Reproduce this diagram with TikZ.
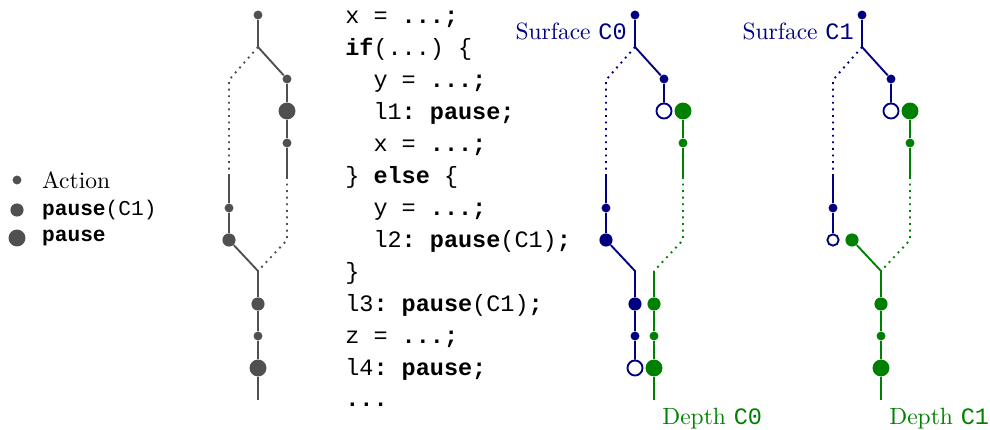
\documentclass[tikz,border=0pt]{standalone}
\usepackage{fontspec}
\setmonofont{Liberation Mono}
\usetikzlibrary{positioning}
\definecolor{surf}{HTML}{000080}
\definecolor{deep}{HTML}{008000}
\definecolor{plain}{HTML}{505050}

\begin{document}
\begin{tikzpicture}[x=0.4255pt, y=-0.4255pt,
  dot/.style={circle, inner sep=0pt, fill},
  act/.style={dot, minimum size=3.8pt},
  pzc/.style={dot, minimum size=5.6pt},
  pz/.style={dot, minimum size=7.2pt},
  hollow/.style={draw, fill=white, line width=0.8pt},
  hpz/.style={pz, hollow, minimum size=6.4pt},
  hpzc/.style={pzc, hollow, minimum size=4.8pt},
  link/.style={line width=0.8pt},
  ghost/.style={link, dotted},
]
\useasboundingbox (0,0) rectangle (990,430);

% ---- Legend ----
\node[plain, act] (kact) at (17,180) {};
\node[plain, pzc] (kpzc) at (17,210) {};
\node[plain, pz] (kpz) at (17,238) {};
\node[right=7.2pt of kact.center] (tact) {Action};
\node[right=7.2pt of kpzc.center] (tpzc) {\small\texttt{\textbf{pause}(C1)}};
\node[right=7.2pt of kpz.center] (tpz) {\small\texttt{\textbf{pause}}};

% ---- Control flow of the code ----
\node[plain, act] (g0) at (258,15) {};
\coordinate (gs) at (258,47);
\node[plain, act] (g1) at (287,79) {};
\node[plain, pz] (g2) at (287,111) {};
\node[plain, act] (g3) at (287,143) {};
\coordinate (gre) at (287,177);
\coordinate (grb) at (287,240);
\coordinate (gla) at (229,80);
\coordinate (gls) at (229,175);
\node[plain, act] (g4) at (229,208) {};
\node[plain, pzc] (g5) at (229,240) {};
\coordinate (gm) at (258,271);
\node[plain, pzc] (g6) at (258,304) {};
\node[plain, act] (g7) at (258,336) {};
\node[plain, pz] (g8) at (258,368) {};
\coordinate (gend) at (258,400);

\draw[link, plain] (g0) -- (gs) -- (g1) -- (g2) -- (g3) -- (gre);
\draw[ghost, plain] (gre) -- (grb) -- (gm);
\draw[ghost, plain] (gs) -- (gla) -- (gls);
\draw[link, plain] (gls) -- (g4) -- (g5) -- (gm) -- (g6) -- (g7) -- (g8) -- (gend);

% ---- Code ----
\node[anchor=base west, align=left,
      font=\ttfamily\fontsize{10pt}{13.6pt}\selectfont] (code) at (337,407)
  {x = \textbf{...;}\\
   \textbf{if}(...) \{\\
   \hphantom{xx}y = \textbf{...;}\\
   \hphantom{xx}l1\textbf{: pause;}\\
   \hphantom{xx}x = \textbf{...;}\\
   \} \textbf{else} \{\\
   \hphantom{xx}y = \textbf{...;}\\
   \hphantom{xx}l2\textbf{: pause}(C1)\textbf{;}\\
   \}\\
   l3\textbf{: pause}(C1)\textbf{;}\\
   z = \textbf{...;}\\
   l4\textbf{: pause;}\\
   \textbf{...}};

% ---- Surface C0 / Depth C0 ----
\node[surf, act] (b0) at (635,15) {};
\coordinate (bs) at (635,47);
\node[surf, act] (b1) at (664,79) {};
\node[surf, hpz] (b2) at (664,111) {};
\coordinate (ba) at (606,80);
\coordinate (bb) at (606,175);
\node[surf, act] (b3) at (606,208) {};
\node[surf, pzc] (b4) at (606,240) {};
\coordinate (bm) at (635,271);
\node[surf, pzc] (b5) at (635,304) {};
\node[surf, act] (b6) at (635,336) {};
\node[surf, hpz] (b7) at (635,368) {};

\draw[link, surf] (b0) -- (bs) -- (b1) -- (b2);
\draw[ghost, surf] (bs) -- (ba) -- (bb);
\draw[link, surf] (bb) -- (b3) -- (b4) -- (bm) -- (b5) -- (b6) -- (b7);

\node[deep, pz] (d0) at (683,111) {};
\node[deep, act] (d1) at (683,143) {};
\coordinate (dre) at (683,177);
\coordinate (drb) at (683,240);
\coordinate (dm) at (654,271);
\node[deep, pzc] (d2) at (654,304) {};
\node[deep, act] (d3) at (654,336) {};
\node[deep, pz] (d4) at (654,368) {};
\coordinate (dend) at (654,400);

\draw[link, deep] (d0) -- (d1) -- (dre);
\draw[ghost, deep] (dre) -- (drb) -- (dm);
\draw[link, deep] (dm) -- (d2) -- (d3) -- (d4) -- (dend);

\node[surf, left] (sc0) at (635,31) {Surface \texttt{C0}};
\node[deep, below right] (dc0) at (dend) {Depth \texttt{C0}};

% ---- Surface C1 / Depth C1 ----
\node[surf, act] (s0) at (862,15) {};
\coordinate (ss) at (862,47);
\node[surf, act] (s1) at (891,79) {};
\node[surf, hpz] (s2) at (891,111) {};
\coordinate (sa) at (833,80);
\coordinate (sb) at (833,175);
\node[surf, act] (s3) at (833,208) {};
\node[surf, hpzc] (s4) at (833,240) {};

\draw[link, surf] (s0) -- (ss) -- (s1) -- (s2);
\draw[ghost, surf] (ss) -- (sa) -- (sb);
\draw[link, surf] (sb) -- (s3) -- (s4);

\node[deep, pz] (e0) at (910,111) {};
\node[deep, act] (e1) at (910,143) {};
\coordinate (ere) at (910,177);
\coordinate (erb) at (910,240);
\node[deep, pzc] (e2) at (852,240) {};
\coordinate (em) at (881,271);
\node[deep, pzc] (e3) at (881,304) {};
\node[deep, act] (e4) at (881,336) {};
\node[deep, pz] (e5) at (881,368) {};
\coordinate (eend) at (881,400);

\draw[link, deep] (e0) -- (e1) -- (ere);
\draw[ghost, deep] (ere) -- (erb) -- (em);
\draw[link, deep] (e2) -- (em) -- (e3) -- (e4) -- (e5) -- (eend);

\node[surf, left] (sc1) at (862,31) {Surface \texttt{C1}};
\node[deep, below right] (dc1) at (eend) {Depth \texttt{C1}};

\end{tikzpicture}
\end{document}
